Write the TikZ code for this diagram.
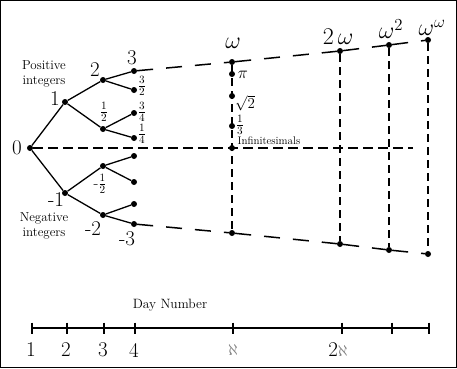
\RequirePackage{fix-cm}
\documentclass[tikz,border=0pt]{standalone}
\usetikzlibrary{positioning}
\begin{document}
\begin{tikzpicture}[x=1pt, y=-1pt,
  dot/.style={circle, fill=black, inner sep=0pt, minimum size=6pt},
  numlabel/.style={inner sep=0pt, font=\fontsize{21}{23}\selectfont},
  fraclabel/.style={inner sep=0pt, font=\fontsize{16}{17}\selectfont},
  ordlabel/.style={inner sep=0pt, font=\fontsize{24}{26}\selectfont},
  textlabel/.style={inner sep=0pt, align=center, font=\fontsize{13}{14.5}\selectfont},
  branch/.style={line width=1.3pt},
  farline/.style={line width=1.5pt, dash pattern=on 16pt off 13pt},
  midline/.style={line width=1.5pt, dash pattern=on 10pt off 5pt},
  column/.style={line width=1.5pt, dash pattern=on 8pt off 5pt},
  axis/.style={line width=1.5pt},
]
\useasboundingbox (0,0) rectangle (457,368);
\draw[line width=1.2pt] (0.6,0.6) rectangle (456.4,367.4);

% --- the tree of finite days ---
\node[dot] (n0) at (30,148) {};
\node[dot] (p1) at (65,102) {};
\node[dot] (p2) at (103,80) {};
\node[dot] (ph) at (103,129) {};
\node[dot] (p3) at (134,71) {};
\node[dot] (p32) at (134,90) {};
\node[dot] (p34) at (134,113) {};
\node[dot] (p14) at (134,138) {};
\node[dot] (m1) at (65,193) {};
\node[dot] (mh) at (103,166) {};
\node[dot] (m2) at (103,215) {};
\node[dot] (mha) at (134,156) {};
\node[dot] (mhb) at (134,182) {};
\node[dot] (m2a) at (134,204) {};
\node[dot] (m3) at (134,224) {};

\draw[branch] (n0) -- (p1);
\draw[branch] (p1) -- (p2);
\draw[branch] (p1) -- (ph);
\draw[branch] (p2) -- (p3);
\draw[branch] (p2) -- (p32);
\draw[branch] (ph) -- (p34);
\draw[branch] (ph) -- (p14);
\draw[branch] (n0) -- (m1);
\draw[branch] (m1) -- (mh);
\draw[branch] (m1) -- (m2);
\draw[branch] (mh) -- (mha);
\draw[branch] (mh) -- (mhb);
\draw[branch] (m2) -- (m2a);
\draw[branch] (m2) -- (m3);

% labels of the tree
\node[numlabel] (l0) at (17,148) {0};
\node[numlabel] (l1) at (55,99) {1};
\node[numlabel] (l2) at (95,70) {2};
\node[numlabel] (l3) at (132,58) {3};
\node[numlabel] (lm1) at (56,200) {-1};
\node[numlabel] (lm2) at (93,229) {-2};
\node[numlabel] (lm3) at (127,239) {-3};
\node[fraclabel] (l32) at (142,86) {$\frac{3}{2}$};
\node[fraclabel] (lh) at (104,112) {$\frac{1}{2}$};
\node[fraclabel] (l34) at (142,112) {$\frac{3}{4}$};
\node[fraclabel] (l14) at (142,134) {$\frac{1}{4}$};
\node[fraclabel] (lmh) at (100,184) {-$\frac{1}{2}$};
\node[textlabel] (pos) at (44,74) {Positive\\integers};
\node[textlabel] (neg) at (44,226) {Negative\\integers};

% --- the transfinite columns ---
\node[dot] (w) at (232,62) {};
\node[dot] (wpi) at (232,74) {};
\node[dot] (wsqrt) at (232,96) {};
\node[dot] (wthird) at (232,126) {};
\node[dot] (winf) at (232,148) {};
\node[dot] (wlow) at (232,233) {};
\node[dot] (tw) at (340,51) {};
\node[dot] (twlow) at (340,244) {};
\node[dot] (ws) at (389,45) {};
\node[dot] (wslow) at (389,250) {};
\node[dot] (ww) at (428,40) {};
\node[dot] (wwlow) at (428,254) {};
\coordinate (midend) at (413,148);

\draw[farline] (p3) -- (w);
\draw[farline] (w) -- (tw);
\draw[farline] (tw) -- (ws);
\draw[farline] (ws) -- (ww);
\draw[farline] (m3) -- (wlow);
\draw[farline] (wlow) -- (twlow);
\draw[farline] (twlow) -- (wslow);
\draw[farline] (wslow) -- (wwlow);
\draw[midline] (n0) -- (midend);
\draw[column] (w) -- (wlow);
\draw[column] (tw) -- (twlow);
\draw[column] (ws) -- (wslow);
\draw[column] (ww) -- (wwlow);

\node[ordlabel] (lw) at (233,43) {$\omega$};
\node[ordlabel] (ltw) at (338,37) {$2\,\omega$};
\node[ordlabel] (lws) at (391,29) {$\omega^2$};
\node[ordlabel] (lww) at (432,28) {$\omega^\omega$};
\node[numlabel, font=\fontsize{17}{18}\selectfont] (lpi) at (243,75) {$\pi$};
\node[numlabel, font=\fontsize{15}{16}\selectfont] (lsqrt) at (245,103) {$\sqrt{2}$};
\node[fraclabel] (lthird) at (240,125) {$\frac{1}{3}$};
\node[textlabel, font=\fontsize{11}{12}\selectfont] (linf) at (269,141) {Infinitesimals};

% --- day number axis ---
\foreach \x/\name in {32/d1, 67/d2, 104/d3, 135/d4, 233/da, 342/dtwoa, 392/dg, 429/dh}
  \coordinate (\name) at (\x,328);
\draw[axis] (d1) -- (dh);
\foreach \name in {d1, d2, d3, d4, da, dtwoa, dg, dh}
  \draw[axis] ([yshift=5.5pt]\name) -- ([yshift=-5.5pt]\name);

\node[textlabel, font=\fontsize{13.5}{15}\selectfont] (day) at (170,305) {Day Number};
\node[numlabel] (t1) at (31,350) {1};
\node[numlabel] (t2) at (66,350) {2};
\node[numlabel] (t3) at (103,350) {3};
\node[numlabel] (t4) at (134,350) {4};
\node[numlabel, text=gray, font=\fontsize{16}{17}\selectfont] (ta) at (233,350) {$\aleph$};
\node[numlabel] (tta) at (338,350) {2{\fontsize{16}{17}\selectfont\color{gray}$\aleph$}};
\end{tikzpicture}
\end{document}
